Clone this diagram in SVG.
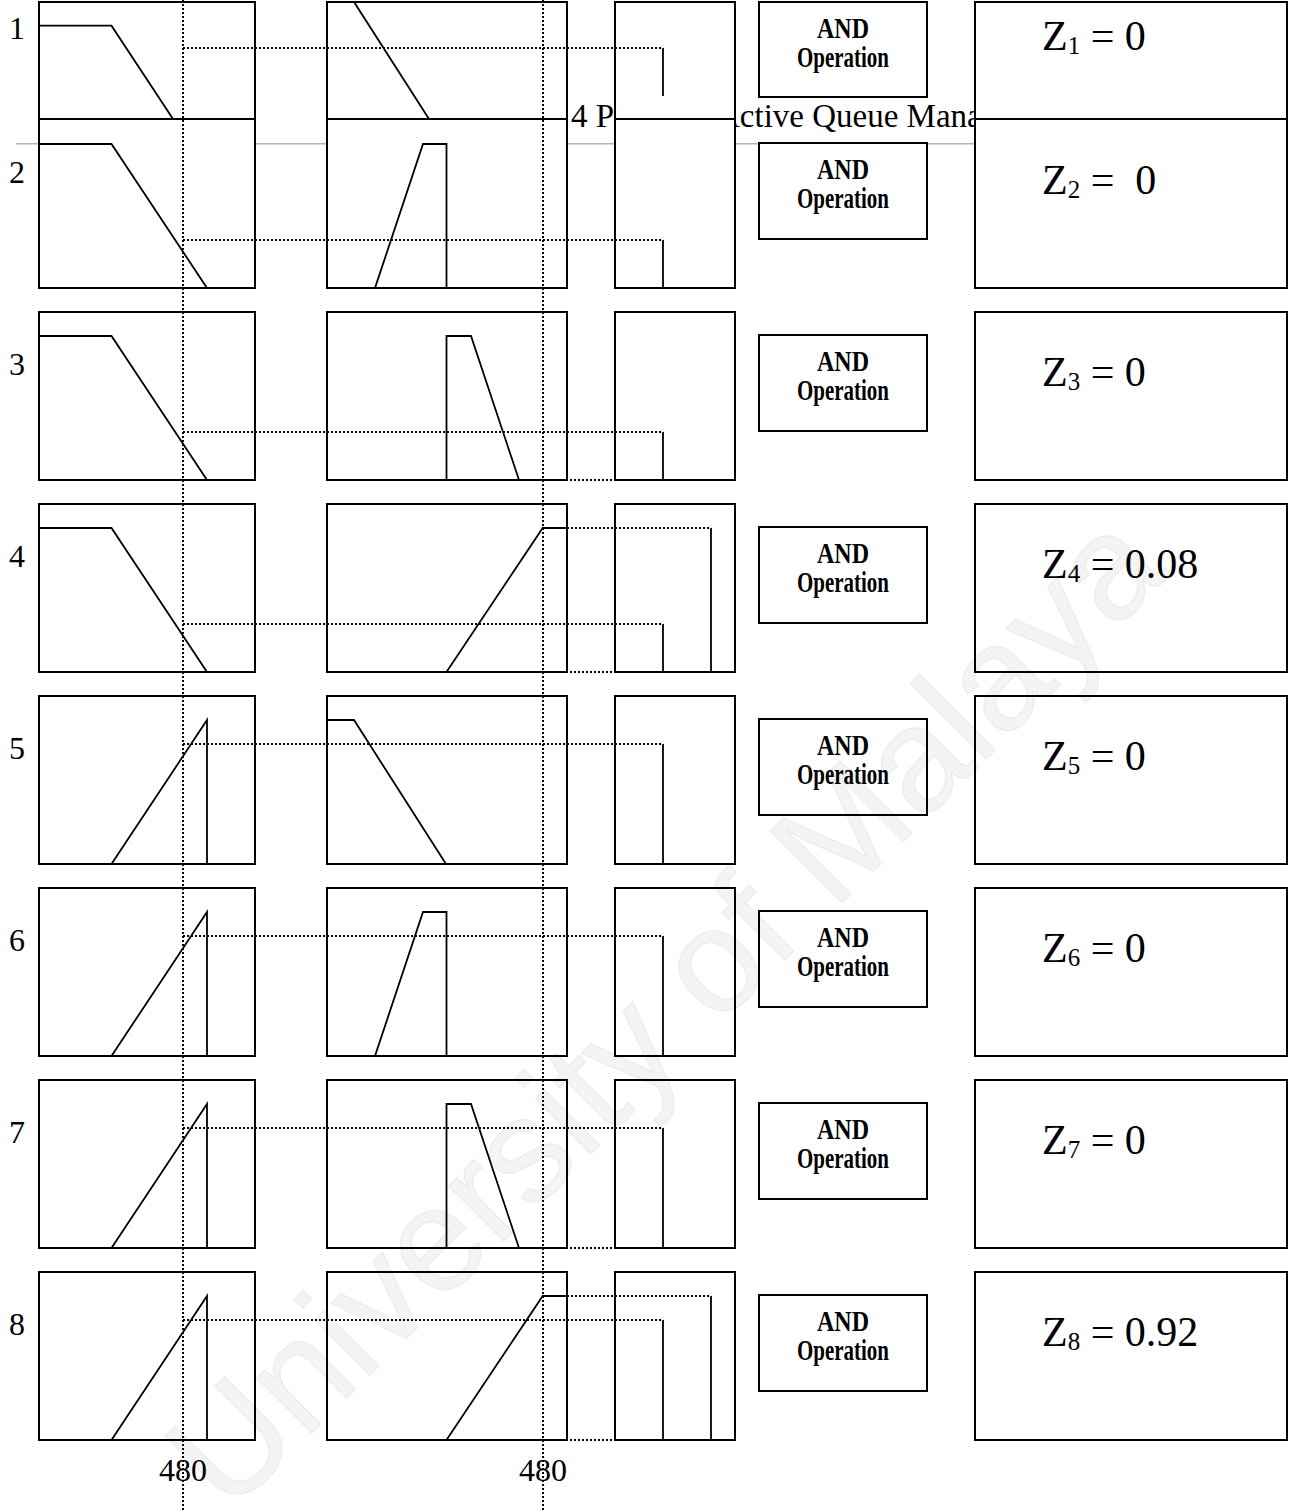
<svg xmlns="http://www.w3.org/2000/svg" width="1291" height="1512" viewBox="0 0 1291 1512">
<style>
.box{fill:#fff;stroke:#000;stroke-width:2}
.mf{fill:none;stroke:#000;stroke-width:1.8}
.dot{fill:none;stroke:#000;stroke-width:2;stroke-dasharray:2 2}
.lbl{font-family:"Liberation Serif","Times New Roman",serif;font-size:32px;fill:#000}
.hdr{font-family:"Liberation Serif","Times New Roman",serif;font-size:33px;fill:#000}
.and{font-family:"Liberation Serif","Times New Roman",serif;font-size:29px;font-weight:bold;fill:#000;text-anchor:middle}
.z{font-family:"Liberation Serif","Times New Roman",serif;font-size:42px;fill:#000}
.wm{font-family:"Liberation Sans",Arial,sans-serif;font-size:148px;fill:#000;fill-opacity:0.045;stroke:#000;stroke-opacity:0.05;stroke-width:1.5}
</style>
<rect width="1291" height="1512" fill="#fff"/>
<g id="page-header">
<line x1="16" y1="143.7" x2="975" y2="143.7" stroke="#b4b4b4" stroke-width="1.5"/>
<text class="hdr" x="571" y="127">4 P</text>
<text class="hdr" x="716" y="127">Active Queue Mana</text>
</g>
<g id="row-labels">
<text class="lbl" x="9" y="39">1</text>
<text class="lbl" x="9" y="183">2</text>
<text class="lbl" x="9" y="375">3</text>
<text class="lbl" x="9" y="567">4</text>
<text class="lbl" x="9" y="759">5</text>
<text class="lbl" x="9" y="951">6</text>
<text class="lbl" x="9" y="1143">7</text>
<text class="lbl" x="9" y="1335">8</text>
</g>
<g id="col1-input1">
<g id="in1-r1"><rect class="box" x="39" y="2" width="216" height="117"/><polyline class="mf" points="39,25.7 111.5,25.7 173,119"/></g>
<g id="in1-r2"><rect class="box" x="39" y="119" width="216" height="169"/><polyline class="mf" points="39,144 111.5,144 207,288"/></g>
<g id="in1-r3"><rect class="box" x="39" y="312" width="216" height="168"/><polyline class="mf" points="39,336 111.5,336 207,480"/></g>
<g id="in1-r4"><rect class="box" x="39" y="504" width="216" height="168"/><polyline class="mf" points="39,528 111.5,528 207,672"/></g>
<g id="in1-r5"><rect class="box" x="39" y="696" width="216" height="168"/><polyline class="mf" points="111.5,864 207,720 207,864"/></g>
<g id="in1-r6"><rect class="box" x="39" y="888" width="216" height="168"/><polyline class="mf" points="111.5,1056 207,912 207,1056"/></g>
<g id="in1-r7"><rect class="box" x="39" y="1080" width="216" height="168"/><polyline class="mf" points="111.5,1248 207,1104 207,1248"/></g>
<g id="in1-r8"><rect class="box" x="39" y="1272" width="216" height="168"/><polyline class="mf" points="111.5,1440 207,1296 207,1440"/></g>
</g>
<g id="col2-input2">
<g id="in2-r1"><rect class="box" x="327" y="2" width="240" height="117"/><polyline class="mf" points="327,2 354,2 429,119"/></g>
<g id="in2-r2"><rect class="box" x="327" y="119" width="240" height="169"/><polyline class="mf" points="375,288 423,144 446.5,144 446.5,288"/></g>
<g id="in2-r3"><rect class="box" x="327" y="312" width="240" height="168"/><polyline class="mf" points="446.5,480 446.5,336 471,336 519,480"/></g>
<g id="in2-r4"><rect class="box" x="327" y="504" width="240" height="168"/><polyline class="mf" points="446.5,672 542.7,528 567,528"/></g>
<g id="in2-r5"><rect class="box" x="327" y="696" width="240" height="168"/><polyline class="mf" points="327,720 354,720 446,864"/></g>
<g id="in2-r6"><rect class="box" x="327" y="888" width="240" height="168"/><polyline class="mf" points="375,1056 423,912 446.5,912 446.5,1056"/></g>
<g id="in2-r7"><rect class="box" x="327" y="1080" width="240" height="168"/><polyline class="mf" points="446.5,1248 446.5,1104 471,1104 519,1248"/></g>
<g id="in2-r8"><rect class="box" x="327" y="1272" width="240" height="168"/><polyline class="mf" points="446.5,1440 542.7,1296 567,1296"/></g>
</g>
<g id="col3-output">
<g id="out-r1"><rect class="box" x="615" y="2" width="120" height="117"/><line class="mf" x1="663" y1="48" x2="663" y2="96"/></g>
<g id="out-r2"><rect class="box" x="615" y="119" width="120" height="169"/><line class="mf" x1="663" y1="240" x2="663" y2="288"/></g>
<g id="out-r3"><rect class="box" x="615" y="312" width="120" height="168"/><line class="mf" x1="663" y1="432" x2="663" y2="480"/></g>
<g id="out-r4"><rect class="box" x="615" y="504" width="120" height="168"/><line class="mf" x1="663" y1="624" x2="663" y2="672"/><line class="mf" x1="711" y1="528" x2="711" y2="672"/></g>
<g id="out-r5"><rect class="box" x="615" y="696" width="120" height="168"/><line class="mf" x1="663" y1="744" x2="663" y2="864"/></g>
<g id="out-r6"><rect class="box" x="615" y="888" width="120" height="168"/><line class="mf" x1="663" y1="936" x2="663" y2="1056"/></g>
<g id="out-r7"><rect class="box" x="615" y="1080" width="120" height="168"/><line class="mf" x1="663" y1="1128" x2="663" y2="1248"/></g>
<g id="out-r8"><rect class="box" x="615" y="1272" width="120" height="168"/><line class="mf" x1="663" y1="1320" x2="663" y2="1440"/><line class="mf" x1="711" y1="1296" x2="711" y2="1440"/></g>
</g>
<g id="and-ops">
<g id="and-1"><rect class="box" x="759" y="2" width="168" height="95"/><text class="and" x="843" y="38" textLength="52" lengthAdjust="spacingAndGlyphs">AND</text><text class="and" x="843" y="67" textLength="92" lengthAdjust="spacingAndGlyphs">Operation</text></g>
<g id="and-2"><rect class="box" x="759" y="143" width="168" height="96"/><text class="and" x="843" y="179" textLength="52" lengthAdjust="spacingAndGlyphs">AND</text><text class="and" x="843" y="208" textLength="92" lengthAdjust="spacingAndGlyphs">Operation</text></g>
<g id="and-3"><rect class="box" x="759" y="335" width="168" height="96"/><text class="and" x="843" y="371" textLength="52" lengthAdjust="spacingAndGlyphs">AND</text><text class="and" x="843" y="400" textLength="92" lengthAdjust="spacingAndGlyphs">Operation</text></g>
<g id="and-4"><rect class="box" x="759" y="527" width="168" height="96"/><text class="and" x="843" y="563" textLength="52" lengthAdjust="spacingAndGlyphs">AND</text><text class="and" x="843" y="592" textLength="92" lengthAdjust="spacingAndGlyphs">Operation</text></g>
<g id="and-5"><rect class="box" x="759" y="719" width="168" height="96"/><text class="and" x="843" y="755" textLength="52" lengthAdjust="spacingAndGlyphs">AND</text><text class="and" x="843" y="784" textLength="92" lengthAdjust="spacingAndGlyphs">Operation</text></g>
<g id="and-6"><rect class="box" x="759" y="911" width="168" height="96"/><text class="and" x="843" y="947" textLength="52" lengthAdjust="spacingAndGlyphs">AND</text><text class="and" x="843" y="976" textLength="92" lengthAdjust="spacingAndGlyphs">Operation</text></g>
<g id="and-7"><rect class="box" x="759" y="1103" width="168" height="96"/><text class="and" x="843" y="1139" textLength="52" lengthAdjust="spacingAndGlyphs">AND</text><text class="and" x="843" y="1168" textLength="92" lengthAdjust="spacingAndGlyphs">Operation</text></g>
<g id="and-8"><rect class="box" x="759" y="1295" width="168" height="96"/><text class="and" x="843" y="1331" textLength="52" lengthAdjust="spacingAndGlyphs">AND</text><text class="and" x="843" y="1360" textLength="92" lengthAdjust="spacingAndGlyphs">Operation</text></g>
</g>
<g id="z-results">
<g id="z-1"><rect class="box" x="975" y="2" width="312" height="117"/><text class="z" x="1042" y="50">Z<tspan font-size="25" dy="4">1</tspan><tspan dy="-4"> = 0</tspan></text></g>
<g id="z-2"><rect class="box" x="975" y="119" width="312" height="169"/><text class="z" x="1042" y="194" xml:space="preserve">Z<tspan font-size="25" dy="4">2</tspan><tspan dy="-4"> =  0</tspan></text></g>
<g id="z-3"><rect class="box" x="975" y="312" width="312" height="168"/><text class="z" x="1042" y="386">Z<tspan font-size="25" dy="4">3</tspan><tspan dy="-4"> = 0</tspan></text></g>
<g id="z-4"><rect class="box" x="975" y="504" width="312" height="168"/><text class="z" x="1042" y="578">Z<tspan font-size="25" dy="4">4</tspan><tspan dy="-4"> = 0.08</tspan></text></g>
<g id="z-5"><rect class="box" x="975" y="696" width="312" height="168"/><text class="z" x="1042" y="770">Z<tspan font-size="25" dy="4">5</tspan><tspan dy="-4"> = 0</tspan></text></g>
<g id="z-6"><rect class="box" x="975" y="888" width="312" height="168"/><text class="z" x="1042" y="962">Z<tspan font-size="25" dy="4">6</tspan><tspan dy="-4"> = 0</tspan></text></g>
<g id="z-7"><rect class="box" x="975" y="1080" width="312" height="168"/><text class="z" x="1042" y="1154">Z<tspan font-size="25" dy="4">7</tspan><tspan dy="-4"> = 0</tspan></text></g>
<g id="z-8"><rect class="box" x="975" y="1272" width="312" height="168"/><text class="z" x="1042" y="1346">Z<tspan font-size="25" dy="4">8</tspan><tspan dy="-4"> = 0.92</tspan></text></g>
</g>
<g id="connectors">
<line class="dot" x1="183" y1="0" x2="183" y2="1512"/>
<line class="dot" x1="543" y1="0" x2="543" y2="1512"/>
<line class="dot" x1="183" y1="48" x2="663" y2="48"/>
<line class="dot" x1="183" y1="240" x2="663" y2="240"/>
<line class="dot" x1="183" y1="432" x2="663" y2="432"/>
<line class="dot" x1="183" y1="624" x2="663" y2="624"/>
<line class="dot" x1="183" y1="744" x2="663" y2="744"/>
<line class="dot" x1="183" y1="936" x2="663" y2="936"/>
<line class="dot" x1="183" y1="1128" x2="663" y2="1128"/>
<line class="dot" x1="183" y1="1320" x2="663" y2="1320"/>
<line class="dot" x1="567" y1="528" x2="711" y2="528"/>
<line class="dot" x1="567" y1="1296" x2="711" y2="1296"/>
<line class="dot" x1="398" y1="480" x2="615" y2="480"/>
<line class="dot" x1="398" y1="672" x2="615" y2="672"/>
<line class="dot" x1="398" y1="1248" x2="615" y2="1248"/>
<line class="dot" x1="398" y1="1440" x2="615" y2="1440"/>
</g>
<g id="axis-labels">
<text class="lbl" x="159" y="1481">480</text>
<text class="lbl" x="519" y="1481">480</text>
</g>
<text class="wm" x="0" y="0" text-anchor="middle" transform="translate(700,1045) rotate(-45)">University of Malaya</text>
</svg>
